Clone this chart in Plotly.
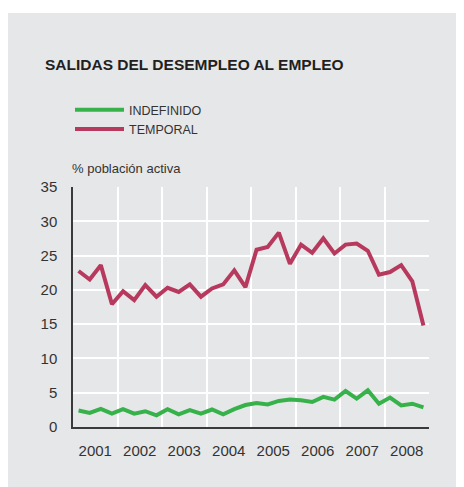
import plotly.graph_objects as go

# Quarterly data 2001 Q1 .. 2008 Q4 (% población activa)
years = [2001, 2002, 2003, 2004, 2005, 2006, 2007, 2008]
quarters = [1, 2, 3, 4]

indefinido = [2.4, 2.05, 2.65, 1.95, 2.6, 1.95, 2.3, 1.7,
              2.6, 1.85, 2.45, 1.95, 2.55, 1.85, 2.6, 3.2,
              3.5, 3.3, 3.8, 4.0, 3.9, 3.65, 4.4, 4.0,
              5.25, 4.15, 5.35, 3.4, 4.3, 3.15, 3.4, 2.85]

temporal = [22.75, 21.5, 23.6, 17.9, 19.8, 18.5, 20.7, 19.0,
            20.3, 19.7, 20.8, 19.0, 20.2, 20.8, 22.85, 20.4,
            25.85, 26.25, 28.35, 23.8, 26.6, 25.4, 27.5, 25.3,
            26.6, 26.75, 25.7, 22.2, 22.6, 23.6, 21.25, 14.8]

x_vals = [y + (q - 0.5) / 4 for y in years for q in quarters]
tick_labels = [str(y) for y in years]

GREEN = "#37b24a"
RED = "#b8395e"
BG = "#e6e7e8"
TXT = "#333333"
FONT = "Liberation Sans, Arial, sans-serif"

fig = go.Figure()
fig.add_trace(go.Scatter(x=x_vals, y=indefinido, mode="lines", name="INDEFINIDO",
                         line=dict(color=GREEN, width=4), hoverinfo="skip"))
fig.add_trace(go.Scatter(x=x_vals, y=temporal, mode="lines", name="TEMPORAL",
                         line=dict(color=RED, width=4), hoverinfo="skip"))

# page has an 8px body margin; work in window pixels, convert to figure pixels
OFF = 8
W, H = 464 - OFF, 487 - OFF
PL, PR, PT, PB = 73, 429, 187, 427  # plot area in window pixels
L, R, T, B = PL - OFF, (W + OFF) - PR, PT - OFF, (H + OFF) - PB
pw, ph = PR - PL, PB - PT

def px_x(p):
    return (p - PL) / pw

def px_y(p):
    return (PB - p) / ph

fig.add_shape(type="rect", xref="paper", yref="paper", layer="below",
              x0=px_x(7), x1=px_x(470), y0=px_y(13), y1=px_y(495),
              fillcolor=BG, line=dict(width=0))

fig.add_annotation(text="SALIDAS DEL DESEMPLEO AL EMPLEO", xref="paper", yref="paper",
                   x=px_x(43), y=px_y(64.5), xanchor="left", yanchor="middle",
                   showarrow=False,
                   font=dict(family=FONT, size=15.5, color="#231f20", weight="bold"))
fig.add_annotation(text="% población activa", xref="paper", yref="paper",
                   x=px_x(70), y=px_y(168), xanchor="left", yanchor="middle",
                   showarrow=False, font=dict(family=FONT, size=13, color=TXT))

fig.update_layout(
    width=W, height=H,
    margin=dict(l=L, r=R, t=T, b=B, pad=0),
    paper_bgcolor="white",
    plot_bgcolor=BG,
    font=dict(family=FONT, color=TXT),
    showlegend=True,
    legend=dict(x=px_x(70), y=px_y(95), xanchor="left", yanchor="top",
                bgcolor="rgba(0,0,0,0)", font=dict(family=FONT, size=12.5, color=TXT),
                itemwidth=49, tracegroupgap=0),
    xaxis=dict(range=[2001, 2009], tickmode="array",
               tickvals=[y + 0.5 for y in years], ticktext=tick_labels,
               showgrid=False, zeroline=False,
               showline=True, linecolor="#3a3a3a", linewidth=1.5,
               ticks="outside", ticklen=9, tickcolor="rgba(0,0,0,0)",
               tickfont=dict(family=FONT, size=15, color=TXT),
               minor=dict(tickmode="array", tickvals=[2002, 2003, 2004, 2005, 2006, 2007, 2008, 2009],
                          showgrid=True, gridcolor="white", gridwidth=2, ticks=""),
               fixedrange=True),
    yaxis=dict(range=[0, 35], tickmode="array", tickvals=[0, 5, 10, 15, 20, 25, 30, 35],
               showgrid=True, gridcolor="white", gridwidth=2, zeroline=False,
               showline=True, linecolor="#3a3a3a", linewidth=1.5,
               ticks="outside", ticklen=11, tickcolor="rgba(0,0,0,0)",
               tickfont=dict(family=FONT, size=15, color=TXT),
               fixedrange=True),
)

fig.write_html("out.html")
